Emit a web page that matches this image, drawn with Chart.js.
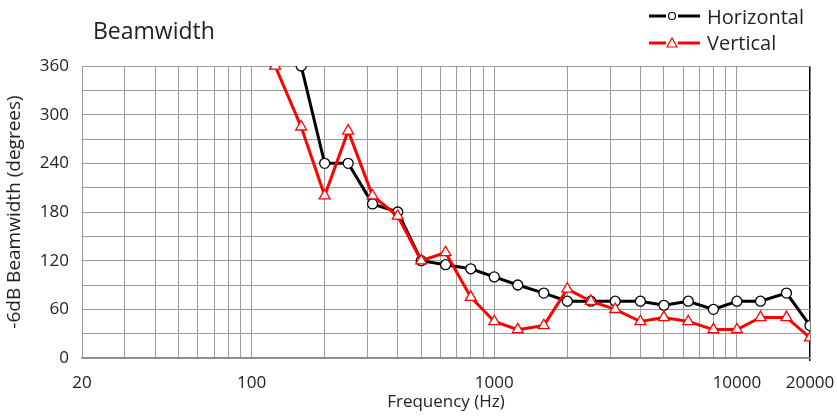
<!DOCTYPE html>
<html>
<head>
<meta charset="utf-8">
<script src="https://cdn.jsdelivr.net/npm/chart.js@4"></script>
<style>
html,body{margin:0;padding:0;background:#fff;}
#wrap{width:837px;height:419px;position:relative;}
</style>
</head>
<body>
<div id="wrap"><canvas id="c" width="837" height="419"></canvas></div>
<script>
const frequencies = [125,160,200,250,315,400,500,630,800,1000,1250,1600,2000,2500,3150,4000,5000,6300,8000,10000,12500,16000,20000];
const horizontal = [null,360,240,240,190,180,120,115,110,100,90,80,70,70,70,70,65,70,60,70,70,80,40];
const vertical = [360,285,200,280,200,175,120,130,75,45,35,40,85,70,60,45,50,45,35,35,50,50,25];
const xGridValues = [20,30,40,50,60,70,80,90,100,200,300,400,500,600,700,800,900,1000,2000,3000,4000,5000,6000,7000,8000,9000,10000,20000];
const xTickLabels = [20,100,1000,10000,20000];
const yLabelStep = 60;
const seriesNames = ['Horizontal','Vertical'];
const chartTitle = 'Beamwidth';
const xTitle = 'Frequency (Hz)';
const yTitle = '-6dB Beamwidth (degrees)';

const FONT = "'Open Sans', 'Noto Sans', sans-serif";

const toPts = (vals) => frequencies.map((f,i)=>({x:f,y:vals[i]})).filter(p=>p.y!==null);

const overlay = {
  id:'overlay',
  afterDraw(chart){
    const ctx = chart.ctx;
    ctx.save();
    ctx.fillStyle = '#222';
    ctx.textBaseline = 'alphabetic';
    ctx.textAlign = 'left';
    ctx.font = "23px " + FONT;
    ctx.fillText(chartTitle, 93, 39);
    const items = [
      {name:seriesNames[0], color:'#000', y:16, marker:'circle', base:24},
      {name:seriesNames[1], color:'#ff0000', y:43, marker:'triangle', base:50}
    ];
    items.forEach(it=>{
      ctx.strokeStyle = it.color;
      ctx.lineWidth = 3;
      ctx.beginPath();
      ctx.moveTo(649,it.y); ctx.lineTo(666,it.y);
      ctx.moveTo(678,it.y); ctx.lineTo(700,it.y);
      ctx.stroke();
      ctx.lineWidth = 1.2;
      ctx.fillStyle = '#fff';
      ctx.beginPath();
      if(it.marker==='circle'){
        ctx.arc(672,it.y,3.5,0,Math.PI*2);
      } else {
        ctx.moveTo(672,it.y-5);
        ctx.lineTo(677,it.y+4);
        ctx.lineTo(667,it.y+4);
        ctx.closePath();
      }
      ctx.fill(); ctx.stroke();
      ctx.fillStyle = '#222';
      ctx.font = "20px " + FONT;
      ctx.fillText(it.name, 707, it.base);
    });
    ctx.restore();
  }
};

new Chart(document.getElementById('c'), {
  type:'line',
  data:{
    datasets:[
      {
        label:seriesNames[0],
        data:toPts(horizontal),
        borderColor:'#000',
        borderWidth:3,
        pointStyle:'circle',
        pointRadius:5,
        pointBorderWidth:1.3,
        pointBorderColor:'#000',
        pointBackgroundColor:'#fff',
        tension:0,
        order:1
      },
      {
        label:seriesNames[1],
        data:toPts(vertical),
        borderColor:'#ff0000',
        borderWidth:3,
        pointStyle:'triangle',
        pointRadius:6.3,
        pointBorderWidth:1.3,
        pointBorderColor:'#ff0000',
        pointBackgroundColor:'#fff',
        tension:0,
        order:0
      }
    ]
  },
  options:{
    responsive:false,
    animation:false,
    devicePixelRatio:1,
    layout:{padding:{top:66,right:27,left:0,bottom:0}},
    plugins:{legend:{display:false},title:{display:false},tooltip:{enabled:false}},
    scales:{
      x:{
        type:'logarithmic',
        min:20,max:20000,
        afterBuildTicks:(s)=>{ s.ticks = xGridValues.map(v=>({value:v})); },
        afterFit:(s)=>{ s.height = 61; s.paddingLeft = 0; s.paddingRight = 0; },
        ticks:{
          autoSkip:false,maxRotation:0,minRotation:0,
          padding:12,
          color:'#222',
          font:{family:FONT,size:17},
          callback:(v)=> xTickLabels.includes(v) ? String(v) : ''
        },
        grid:{
          color:(c)=> (c.tick && c.tick.value===20000) ? '#000' : '#9c9c9c',
          lineWidth:(c)=> (c.tick && c.tick.value===20000) ? 1.5 : 1,
          tickLength:3,
          tickColor:(c)=> (c.tick && c.tick.value===20000) ? '#000' : 'rgba(0,0,0,0)'
        },
        border:{color:'#8a8a8a',width:1.5},
        title:{display:true,text:xTitle,color:'#222',font:{family:FONT,size:17},padding:{top:0,bottom:7}}
      },
      y:{
        min:0,max:360,
        afterFit:(s)=>{ s.width = 82; },
        ticks:{
          stepSize:30,
          padding:13,
          color:'#222',
          font:{family:FONT,size:17},
          callback:(v)=> (v % yLabelStep === 0) ? String(v) : ''
        },
        grid:{color:'#9c9c9c',drawTicks:false},
        border:{color:'#9c9c9c'},
        title:{display:true,text:yTitle,color:'#222',font:{family:FONT,size:19},padding:{top:3,bottom:0}}
      }
    }
  },
  plugins:[overlay]
});
</script>
</body>
</html>
